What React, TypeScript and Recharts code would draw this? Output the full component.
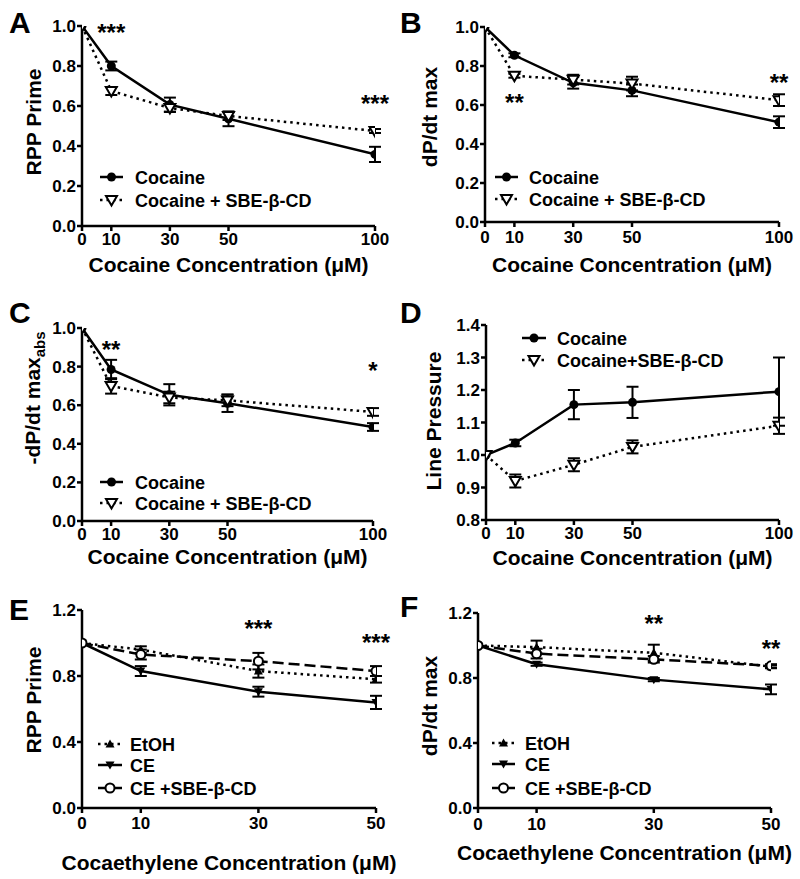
import React from 'react';
import { LineChart, Line, XAxis, YAxis, ErrorBar, ReferenceDot } from 'recharts';

const FONT = '"Liberation Sans", Arial, Helvetica, sans-serif';

// doses (µM)
const cocaineDoses = [0, 10, 30, 50, 100];
const ceDoses = [0, 10, 30, 50];

// tick labels
const cocaineXTicks = [0, 10, 30, 50, 100];
const ceXTicks = [0, 10, 30, 50];
const unitYTicks = [0, 0.2, 0.4, 0.6, 0.8, 1.0];
const pressureYTicks = [0.8, 0.9, 1.0, 1.1, 1.2, 1.3, 1.4];
const ceYTicks = [0, 0.4, 0.8, 1.2];

// A: RPP prime
const rppCocaine = [1.0, 0.8, 0.607, 0.536, 0.358];
const rppCocaineErr = [0, 0.022, 0.035, 0.037, 0.038];
const rppCocaineSbe = [1.0, 0.675, 0.59, 0.55, 0.475];
const rppCocaineSbeErr = [0, 0.02, 0.02, 0.02, 0.01];

// B: dP/dt max
const dpCocaine = [1.0, 0.855, 0.714, 0.675, 0.512];
const dpCocaineErr = [0, 0.01, 0.03, 0.03, 0.03];
const dpCocaineSbe = [1.0, 0.75, 0.73, 0.71, 0.625];
const dpCocaineSbeErr = [0, 0.01, 0.025, 0.035, 0.03];

// C: -dP/dt max (abs)
const negCocaine = [1.0, 0.785, 0.654, 0.61, 0.487];
const negCocaineErr = [0, 0.05, 0.055, 0.045, 0.02];
const negCocaineSbe = [1.0, 0.7, 0.64, 0.625, 0.565];
const negCocaineSbeErr = [0, 0.04, 0.03, 0.03, 0.02];

// D: line pressure
const lpCocaine = [1.0, 1.037, 1.155, 1.162, 1.195];
const lpCocaineErr = [0, 0.01, 0.045, 0.048, 0.105];
const lpCocaineSbe = [1.0, 0.92, 0.97, 1.025, 1.09];
const lpCocaineSbeErr = [0, 0.02, 0.02, 0.02, 0.025];

// E: RPP prime, cocaethylene
const rppEtoh = [1.0, 0.96, 0.83, 0.78];
const rppEtohErr = [0, 0.02, 0.04, 0.02];
const rppCe = [1.0, 0.83, 0.705, 0.64];
const rppCeErr = [0, 0.03, 0.03, 0.04];
const rppCeSbe = [1.0, 0.93, 0.89, 0.83];
const rppCeSbeErr = [0, 0.03, 0.05, 0.03];

// F: dP/dt max, cocaethylene
const dpEtoh = [1.0, 0.99, 0.955, 0.87];
const dpEtohErr = [0, 0.04, 0.05, 0.01];
const dpCe = [1.0, 0.885, 0.79, 0.73];
const dpCeErr = [0, 0.01, 0.01, 0.03];
const dpCeSbe = [1.0, 0.95, 0.915, 0.875];
const dpCeSbeErr = [0, 0.03, 0.02, 0.01];

type MarkerKind = 'dot' | 'openTriDown' | 'triUp' | 'triDown' | 'openCircle';
type LineKind = 'solid' | 'dotted' | 'dashed';

interface Series {
  name: string;
  values: number[];
  errors: number[];
  line: LineKind;
  marker: MarkerKind;
}

interface Star {
  x: number;
  y: number;
  text: string;
}

const DASH: Record<LineKind, string | undefined> = {
  solid: undefined,
  dotted: '2.5 4',
  dashed: '11 5',
};

function Marker({ kind, cx, cy }: { kind: MarkerKind; cx: number; cy: number }) {
  switch (kind) {
    case 'dot':
      return <circle cx={cx} cy={cy} r={4.5} fill="#000" />;
    case 'openTriDown':
      return (
        <path
          d={`M${cx - 5.5},${cy - 4} L${cx + 5.5},${cy - 4} L${cx},${cy + 5.5} Z`}
          fill="#fff"
          stroke="#000"
          strokeWidth={2}
        />
      );
    case 'triUp':
      return <path d={`M${cx - 4.5},${cy + 3.5} L${cx + 4.5},${cy + 3.5} L${cx},${cy - 4.5} Z`} fill="#000" />;
    case 'triDown':
      return <path d={`M${cx - 4.5},${cy - 3.5} L${cx + 4.5},${cy - 3.5} L${cx},${cy + 4.5} Z`} fill="#000" />;
    case 'openCircle':
      return <circle cx={cx} cy={cy} r={4.5} fill="#fff" stroke="#000" strokeWidth={2} />;
  }
}

interface PanelProps {
  letter: string;
  letterPos: [number, number];
  box: [number, number, number, number]; // left, top, width, height
  plot: [number, number, number, number]; // left, right, top, bottom (page coords)
  doses: number[];
  xTicks: number[];
  xMax: number;
  yDomain: [number, number];
  yTicks: number[];
  xTickMargin: number;
  series: Series[];
  stars: Star[];
  xTitle: string;
  xTitleY: number;
  yTitle: React.ReactNode;
  yTitleX: number;
  yTitleY: number;
  legend: { x0: number; x1: number; textX: number; rows: number[] };
}

const axisStroke = { stroke: '#000', strokeWidth: 2.5 };
const tickText = { fill: '#000', fontSize: 17, fontWeight: 'bold', fontFamily: FONT };

function Panel(p: PanelProps) {
  const [bx, by, bw, bh] = p.box;
  const [pl, pr, pt, pb] = p.plot;
  const rows = p.doses.map((x, i) => {
    const r: Record<string, number> = { x };
    p.series.forEach((s, j) => {
      r['s' + j] = s.values[i];
      r['e' + j] = s.errors[i];
    });
    return r;
  });

  return (
    <div style={{ position: 'absolute', left: bx, top: by, width: bw, height: bh }}>
      <LineChart
        width={bw}
        height={bh}
        data={rows}
        margin={{ top: pt - by, right: bx + bw - pr, bottom: 0, left: 0 }}
      >
        <XAxis
          type="number"
          dataKey="x"
          domain={[0, p.xMax]}
          ticks={p.xTicks}
          interval={0}
          height={by + bh - pb}
          axisLine={axisStroke}
          tickLine={axisStroke}
          tickSize={5}
          tickMargin={p.xTickMargin}
          tick={tickText}
          allowDataOverflow
        />
        <YAxis
          type="number"
          domain={p.yDomain}
          ticks={p.yTicks}
          interval={0}
          width={pl - bx}
          axisLine={axisStroke}
          tickLine={axisStroke}
          tickSize={5}
          tickMargin={1}
          tick={tickText}
          tickFormatter={(v: number) => v.toFixed(1)}
          allowDataOverflow
        />
        {p.series.map((s, j) => (
          <Line
            key={s.name}
            dataKey={'s' + j}
            type="linear"
            stroke="#000"
            strokeWidth={2.5}
            strokeDasharray={DASH[s.line]}
            isAnimationActive={false}
            activeDot={false}
            dot={(d: any) => <Marker key={d.index} kind={s.marker} cx={d.cx} cy={d.cy} />}
          >
            <ErrorBar dataKey={'e' + j} direction="y" width={6} stroke="#000" strokeWidth={2} />
          </Line>
        ))}
        {p.stars.map((st, k) => (
          <ReferenceDot
            key={k}
            x={st.x}
            y={st.y}
            r={0}
            ifOverflow="visible"
            shape={(d: any) => (
              <text
                x={d.cx}
                y={d.cy + 14}
                textAnchor="middle"
                fontSize={24}
                fontWeight="bold"
                fill="#000"
                fontFamily={FONT}
              >
                {st.text}
              </text>
            )}
          />
        ))}
      </LineChart>
      <svg
        width={bw}
        height={bh}
        style={{ position: 'absolute', left: 0, top: 0, pointerEvents: 'none', overflow: 'visible' }}
        fontFamily={FONT}
        fontWeight="bold"
      >
        <text x={p.letterPos[0] - bx} y={p.letterPos[1] - by} fontSize={30}>
          {p.letter}
        </text>
        <text x={(pl + pr) / 2 - bx} y={p.xTitleY - by + 7.5} fontSize={21} textAnchor="middle">
          {p.xTitle}
        </text>
        <text
          x={p.yTitleX - bx}
          y={p.yTitleY - by}
          fontSize={21}
          textAnchor="middle"
          transform={`rotate(-90 ${p.yTitleX - bx} ${p.yTitleY - by})`}
        >
          {p.yTitle}
        </text>
        {p.series.map((s, j) => {
          const y = p.legend.rows[j] - by;
          const x0 = p.legend.x0 - bx;
          const x1 = p.legend.x1 - bx;
          return (
            <g key={s.name}>
              <line x1={x0} y1={y} x2={x1} y2={y} stroke="#000" strokeWidth={2.5} strokeDasharray={DASH[s.line]} />
              <Marker kind={s.marker} cx={(x0 + x1) / 2} cy={y} />
              <text x={p.legend.textX - bx} y={y + 6.5} fontSize={18}>
                {s.name}
              </text>
            </g>
          );
        })}
      </svg>
    </div>
  );
}

function cocaineSeries(v: number[], e: number[], vs: number[], es: number[], sbeName: string): Series[] {
  return [
    { name: 'Cocaine', values: v, errors: e, line: 'solid', marker: 'dot' },
    { name: sbeName, values: vs, errors: es, line: 'dotted', marker: 'openTriDown' },
  ];
}

function ceSeries(et: number[], ete: number[], ce: number[], cee: number[], sb: number[], sbe: number[]): Series[] {
  return [
    { name: 'EtOH', values: et, errors: ete, line: 'dotted', marker: 'triUp' },
    { name: 'CE', values: ce, errors: cee, line: 'solid', marker: 'triDown' },
    { name: 'CE +SBE-β-CD', values: sb, errors: sbe, line: 'dashed', marker: 'openCircle' },
  ];
}

const cocaineTitle = 'Cocaine Concentration (μM)';
const ceTitle = 'Cocaethylene Concentration (μM)';

export default function App() {
  return (
    <div
      style={{
        position: 'absolute',
        left: 0,
        top: 0,
        width: 800,
        height: 879,
        background: '#fff',
        fontFamily: FONT,
        overflow: 'hidden',
      }}
    >
      <Panel
        letter="A"
        letterPos={[9, 33]}
        box={[0, 0, 400, 290]}
        plot={[82, 375, 26, 226]}
        doses={cocaineDoses}
        xTicks={cocaineXTicks}
        xMax={100}
        yDomain={[0, 1]}
        yTicks={unitYTicks}
        xTickMargin={2}
        series={cocaineSeries(rppCocaine, rppCocaineErr, rppCocaineSbe, rppCocaineSbeErr, 'Cocaine + SBE-β-CD')}
        stars={[
          { x: 10, y: 0.997, text: '***' },
          { x: 100, y: 0.64, text: '***' },
        ]}
        xTitle={cocaineTitle}
        xTitleY={264}
        yTitle="RPP Prime"
        yTitleX={41}
        yTitleY={122}
        legend={{ x0: 100, x1: 123, textX: 135, rows: [177, 200] }}
      />
      <Panel
        letter="B"
        letterPos={[400, 33]}
        box={[400, 0, 400, 290]}
        plot={[485, 779, 27, 222]}
        doses={cocaineDoses}
        xTicks={cocaineXTicks}
        xMax={100}
        yDomain={[0, 1]}
        yTicks={unitYTicks}
        xTickMargin={4}
        series={cocaineSeries(dpCocaine, dpCocaineErr, dpCocaineSbe, dpCocaineSbeErr, 'Cocaine + SBE-β-CD')}
        stars={[
          { x: 10, y: 0.64, text: '**' },
          { x: 100, y: 0.745, text: '**' },
        ]}
        xTitle={cocaineTitle}
        xTitleY={264}
        yTitle="dP/dt max"
        yTitleX={437}
        yTitleY={117}
        legend={{ x0: 495, x1: 518, textX: 529, rows: [177, 199] }}
      />
      <Panel
        letter="C"
        letterPos={[9, 323]}
        box={[0, 290, 400, 290]}
        plot={[82, 373, 328, 521]}
        doses={cocaineDoses}
        xTicks={cocaineXTicks}
        xMax={100}
        yDomain={[0, 1]}
        yTicks={unitYTicks}
        xTickMargin={2}
        series={cocaineSeries(negCocaine, negCocaineErr, negCocaineSbe, negCocaineSbeErr, 'Cocaine + SBE-β-CD')}
        stars={[
          { x: 10, y: 0.916, text: '**' },
          { x: 100, y: 0.81, text: '*' },
        ]}
        xTitle={cocaineTitle}
        xTitleY={556}
        yTitle={
          <>
            -dP/dt max
            <tspan dy={5} fontSize={15}>
              abs
            </tspan>
          </>
        }
        yTitleX={40}
        yTitleY={398}
        legend={{ x0: 100, x1: 123, textX: 135, rows: [482, 503] }}
      />
      <Panel
        letter="D"
        letterPos={[400, 323]}
        box={[400, 290, 400, 290]}
        plot={[486, 779, 325, 520]}
        doses={cocaineDoses}
        xTicks={cocaineXTicks}
        xMax={100}
        yDomain={[0.8, 1.4]}
        yTicks={pressureYTicks}
        xTickMargin={2}
        series={cocaineSeries(lpCocaine, lpCocaineErr, lpCocaineSbe, lpCocaineSbeErr, 'Cocaine+SBE-β-CD')}
        stars={[]}
        xTitle={cocaineTitle}
        xTitleY={557}
        yTitle="Line Pressure"
        yTitleX={441}
        yTitleY={421}
        legend={{ x0: 522, x1: 546, textX: 557, rows: [338, 360] }}
      />
      <Panel
        letter="E"
        letterPos={[9, 620]}
        box={[0, 580, 400, 299]}
        plot={[82, 376, 610, 808]}
        doses={ceDoses}
        xTicks={ceXTicks}
        xMax={50}
        yDomain={[0, 1.2]}
        yTicks={ceYTicks}
        xTickMargin={4}
        series={ceSeries(rppEtoh, rppEtohErr, rppCe, rppCeErr, rppCeSbe, rppCeSbeErr)}
        stars={[
          { x: 30, y: 1.121, text: '***' },
          { x: 50, y: 1.036, text: '***' },
        ]}
        xTitle={ceTitle}
        xTitleY={862}
        yTitle="RPP Prime"
        yTitleX={41}
        yTitleY={700}
        legend={{ x0: 98, x1: 122, textX: 130, rows: [744, 765, 788] }}
      />
      <Panel
        letter="F"
        letterPos={[400, 617]}
        box={[400, 580, 400, 299]}
        plot={[478, 771, 613, 808]}
        doses={ceDoses}
        xTicks={ceXTicks}
        xMax={50}
        yDomain={[0, 1.2]}
        yTicks={ceYTicks}
        xTickMargin={5}
        series={ceSeries(dpEtoh, dpEtohErr, dpCe, dpCeErr, dpCeSbe, dpCeSbeErr)}
        stars={[
          { x: 30, y: 1.169, text: '**' },
          { x: 50, y: 1.015, text: '**' },
        ]}
        xTitle={ceTitle}
        xTitleY={852}
        yTitle="dP/dt max"
        yTitleX={437}
        yTitleY={706}
        legend={{ x0: 492, x1: 515, textX: 525, rows: [743, 764, 788] }}
      />
    </div>
  );
}
